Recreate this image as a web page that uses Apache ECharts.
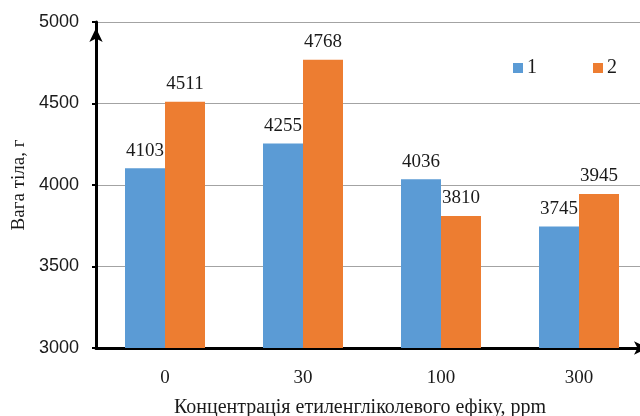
<!DOCTYPE html>
<html>
<head>
<meta charset="utf-8">
<script src="https://cdn.jsdelivr.net/npm/echarts@6/dist/echarts.min.js"></script>
<style>
  html, body { margin: 0; padding: 0; background: #fff; overflow: hidden; }
  /* plot runs slightly past the right edge of the window, so the x-axis arrow is clipped */
  #chart { width: 648px; height: 416px; }
</style>
</head>
<body>
<div id="chart"></div>
<script>
// Body weight by ethylene glycol ether concentration
const categories = ['0', '30', '100', '300'];
const series1 = [4103, 4255, 4036, 3745];
const series2 = [4511, 4768, 3810, 3945];
const seriesNames = ['1', '2'];
const yTicks = [3000, 3500, 4000, 4500, 5000];

const serif = '"Liberation Serif", "Times New Roman", serif';
const sans = '"Liberation Sans", Arial, sans-serif';
const ink = '#1a1a1a';

const chart = echarts.init(document.getElementById('chart'), null, { renderer: 'canvas' });

const labelStyle = {
  show: true,
  position: 'top',
  distance: 8,
  fontFamily: serif,
  fontSize: 19,
  color: ink
};

chart.setOption({
  animation: false,
  backgroundColor: '#ffffff',
  grid: { left: 96, right: 0, top: 22, bottom: 68, outerBoundsMode: 'none', containLabel: false },
  legend: {
    data: seriesNames,
    left: 513,
    top: 58,
    padding: 0,
    icon: 'rect',
    itemWidth: 10,
    itemHeight: 10,
    itemGap: 56,
    textStyle: { fontFamily: serif, fontSize: 20, color: ink, padding: [0, 0, 0, -1] }
  },
  xAxis: {
    type: 'category',
    data: categories,
    name: 'Концентрація етиленгліколевого ефіку, ppm',
    nameLocation: 'middle',
    nameGap: 50,
    nameTextStyle: { fontFamily: serif, fontSize: 20, color: ink, padding: [0, 24, 0, 0] },
    axisLine: {
      lineStyle: { color: '#000', width: 3 },
      symbol: ['none', 'arrow'],
      symbolSize: [10, 14]
    },
    axisTick: { show: false },
    axisLabel: { fontFamily: serif, fontSize: 19, color: ink, margin: 21 },
    splitLine: { show: false }
  },
  yAxis: {
    type: 'value',
    min: yTicks[0],
    max: yTicks[yTicks.length - 1],
    interval: 500,
    name: 'Вага тіла, г',
    nameLocation: 'middle',
    nameRotate: 90,
    nameGap: 67,
    nameTextStyle: { fontFamily: serif, fontSize: 19, color: ink },
    axisLine: {
      show: true,
      lineStyle: { color: '#000', width: 3 },
      symbol: ['none', 'arrow'],
      symbolSize: [10, 14],
      symbolOffset: [0, -6]
    },
    axisTick: { show: true, inside: false, length: 4, lineStyle: { color: '#000', width: 2 } },
    axisLabel: {
      fontFamily: sans,
      fontSize: 18,
      color: ink,
      margin: 17,
      formatter: (v) => String(v)
    },
    splitLine: { show: true, lineStyle: { color: '#a3a3a3', width: 1 } }
  },
  series: [
    {
      name: seriesNames[0],
      type: 'bar',
      data: series1,
      barWidth: 40,
      barGap: '0%',
      itemStyle: { color: '#5B9BD5' },
      label: labelStyle
    },
    {
      name: seriesNames[1],
      type: 'bar',
      data: series2,
      barWidth: 40,
      barGap: '0%',
      itemStyle: { color: '#ED7D31' },
      label: labelStyle
    }
  ]
});
</script>
</body>
</html>
